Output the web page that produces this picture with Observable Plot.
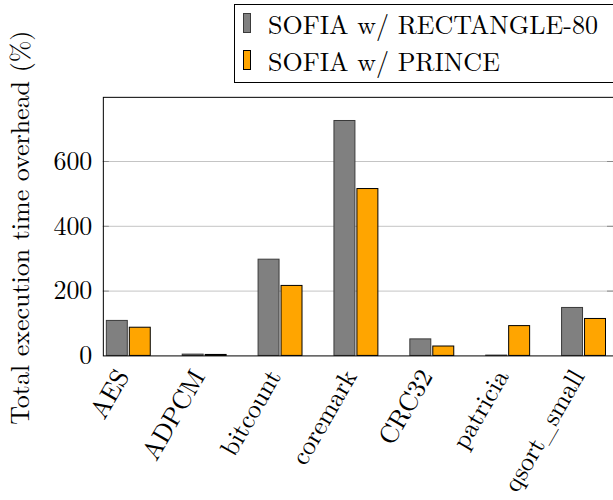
<!DOCTYPE html>
<html>
<head>
<meta charset="utf-8">
<script src="https://cdn.jsdelivr.net/npm/d3@7"></script>
<script src="https://cdn.jsdelivr.net/npm/@observablehq/plot@0.6"></script>
<style>
  html, body { margin: 0; padding: 0; background: #fff; overflow: hidden; width: 613px; height: 500px; }
  #wrap { position: relative; width: 613px; height: 500px; overflow: hidden; }
  #chart { position: absolute; left: 0; top: 0; }
  #legend { position: absolute; left: 234px; top: 4px; width: 430px; height: 79px; border: 1px solid #000; background: #fff;
            font-family: 'Latin Modern Roman', 'Liberation Serif', serif; font-size: 26px; color: #000; box-sizing: border-box; }
  .sw { position: absolute; left: 8px; width: 8px; height: 20px; box-sizing: border-box; }
  .lt { position: absolute; left: 33px; white-space: nowrap; line-height: 1; }
</style>
</head>
<body>
<div id="wrap">
  <div id="chart"></div>
  <div id="legend"></div>
</div>
<script>
const categories = ["AES", "ADPCM", "bitcount", "coremark", "CRC32", "patricia", "qsort_small"];
const seriesNames = ["SOFIA w/ RECTANGLE-80", "SOFIA w/ PRINCE"];
const rectangle80 = [108, 4, 297, 725, 51, 1, 148];
const prince = [87, 3, 216, 515, 29, 92, 114];
const yTicks = [0, 200, 400, 600];
const seriesFill = ["#808080", "#ffa500"];
const seriesStroke = ["#3a3a3a", "#000000"];

const rowsA = categories.map((c, i) => ({category: c, value: rectangle80[i]}));
const rowsB = categories.map((c, i) => ({category: c, value: prince[i]}));

const W = 614, H = 500, ML = 103, MT = 97, MB = 144;
const innerW = W - ML;
const font = "'Latin Modern Roman', 'Liberation Serif', serif";

const chart = Plot.plot({
  width: W,
  height: H,
  marginLeft: ML,
  marginRight: 0,
  marginTop: MT,
  marginBottom: MB,
  style: {fontFamily: font, fontSize: "26px", color: "#000", background: "transparent", overflow: "visible"},
  x: {domain: categories, range: [ML, 609.6], paddingInner: 0.386, paddingOuter: 0, axis: null},
  y: {domain: [0, 798], axis: null},
  marks: [
    Plot.gridY(yTicks.slice(1), {stroke: "#c4c4c4", strokeOpacity: 1, strokeWidth: 1}),
    Plot.tickY(yTicks.slice(1), {y: d => d, stroke: "#8a8a8a", strokeWidth: 1, insetRight: innerW - 6}),
    Plot.tickY(yTicks.slice(1), {y: d => d, stroke: "#8a8a8a", strokeWidth: 1, insetLeft: innerW - 6}),
    Plot.barY(rowsA, {x: "category", y: "value", fill: seriesFill[0], stroke: seriesStroke[0], strokeWidth: 1, insetLeft: 1.5, insetRight: 24.5}),
    Plot.barY(rowsB, {x: "category", y: "value", fill: seriesFill[1], stroke: seriesStroke[1], strokeWidth: 1, insetLeft: 24.5, insetRight: 1.5}),
    Plot.axisY(yTicks, {anchor: "left", tickSize: 0, tickPadding: 11, fontSize: 26, fontFamily: font, label: null}),
    Plot.axisX({anchor: "bottom", tickSize: 0, tickPadding: 16, tickRotate: -60, dx: -6, fontSize: 26, fontFamily: font, label: null}),
    Plot.text(["Total execution time overhead (%)"], {frameAnchor: "left", textAnchor: "middle", rotate: -90, dx: -83, dy: 1, fontSize: 26, fontFamily: font, fill: "#000", lineAnchor: "middle"}),
    Plot.frame({stroke: "#000", strokeWidth: 1})
  ]
});
document.getElementById("chart").appendChild(chart);

const legend = document.getElementById("legend");
seriesNames.forEach((name, i) => {
  const sw = document.createElement("div");
  sw.className = "sw";
  sw.style.top = (8 + i * 37) + "px";
  sw.style.background = seriesFill[i];
  sw.style.border = "1px solid " + seriesStroke[i];
  legend.appendChild(sw);
  const t = document.createElement("div");
  t.className = "lt";
  t.style.top = (6 + i * 37) + "px";
  t.textContent = name;
  legend.appendChild(t);
});
</script>
</body>
</html>
